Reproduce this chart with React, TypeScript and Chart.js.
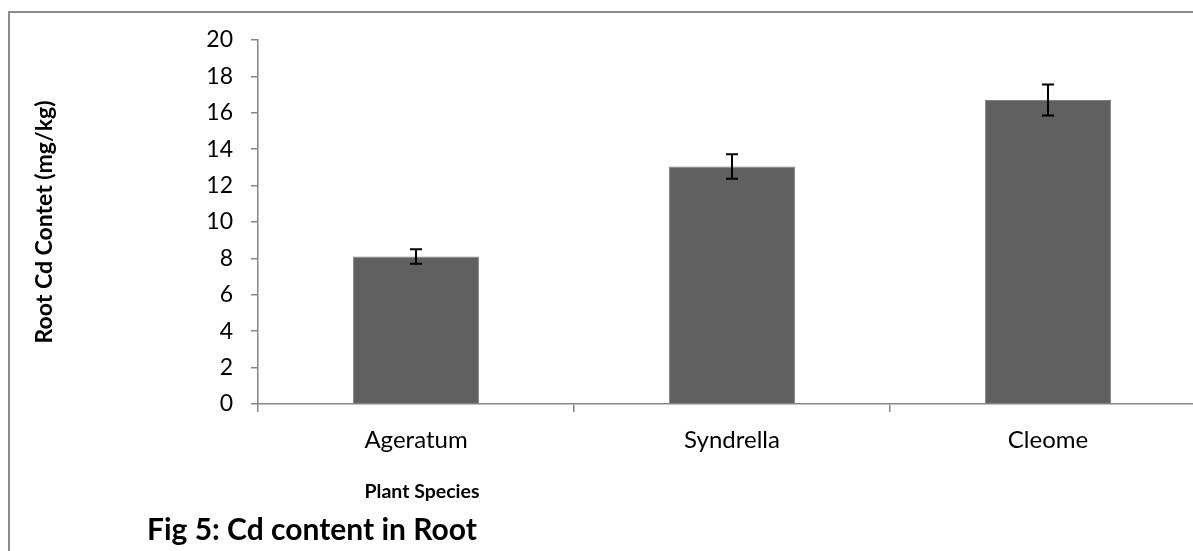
import React, { useEffect, useRef } from "react";
import { Chart, registerables } from "chart.js";

Chart.register(...registerables);

const categories = ["Ageratum", "Syndrella", "Cleome"];
const values = [8.1, 13.05, 16.7];
const errors = [0.4, 0.67, 0.85];
const yTitle = "Root Cd Contet (mg/kg)";
const xTitle = "Plant Species";
const figCaption = "Fig 5: Cd content in Root";

const FONT = "Lato, 'Open Sans', sans-serif";
const CANVAS_W = 1240;
const CANVAS_H = 551;

const errorBarPlugin = {
  id: "errorBars",
  afterDatasetsDraw(chart: any) {
    const meta = chart.getDatasetMeta(0);
    const y = chart.scales.y;
    const ctx = chart.ctx;
    ctx.save();
    ctx.strokeStyle = "#000000";
    ctx.lineWidth = 2;
    meta.data.forEach((bar: any, i: number) => {
      const x = bar.x;
      const top = y.getPixelForValue(values[i] + errors[i]);
      const bot = y.getPixelForValue(values[i] - errors[i]);
      ctx.beginPath();
      ctx.moveTo(x, top);
      ctx.lineTo(x, bot);
      ctx.moveTo(x - 6, top);
      ctx.lineTo(x + 6, top);
      ctx.moveTo(x - 6, bot);
      ctx.lineTo(x + 6, bot);
      ctx.stroke();
    });
    ctx.restore();
  },
};

const captionPlugin = {
  id: "captions",
  afterDraw(chart: any) {
    const ctx = chart.ctx;
    ctx.save();
    ctx.fillStyle = "#000000";
    ctx.textBaseline = "middle";
    ctx.textAlign = "center";
    ctx.font = `bold 19.5px ${FONT}`;
    ctx.fillText(xTitle, 422, 492);
    ctx.textAlign = "left";
    ctx.font = `bold 30px ${FONT}`;
    ctx.fillText(figCaption, 147, 530);
    ctx.restore();
  },
};

export default function App() {
  const canvasRef = useRef<HTMLCanvasElement | null>(null);

  useEffect(() => {
    if (!canvasRef.current) return;
    const chart = new Chart(canvasRef.current, {
      type: "bar",
      data: {
        labels: categories,
        datasets: [
          {
            data: values,
            backgroundColor: "#606060",
            borderColor: "#7f7f7f",
            borderWidth: 1,
            categoryPercentage: 1,
            barPercentage: 0.4,
          },
        ],
      },
      options: {
        animation: false,
        responsive: false,
        devicePixelRatio: 1,
        layout: { padding: { left: 0, right: CANVAS_W - 1206, top: 40, bottom: 0 } },
        plugins: {
          legend: { display: false },
          tooltip: { enabled: false },
        },
        scales: {
          x: {
            grid: {
              offset: true,
              drawOnChartArea: false,
              drawTicks: true,
              tickLength: 8,
              color: "#868686",
              lineWidth: 1.5,
            },
            border: { color: "#868686", width: 1.5 },
            ticks: { font: { family: FONT, size: 24 }, color: "#000000", padding: 14 },
            afterFit: (s: any) => {
              s.height = CANVAS_H - 404;
            },
          },
          y: {
            min: 0,
            max: 20,
            ticks: { stepSize: 2, font: { family: FONT, size: 23 }, color: "#000000", padding: 18 },
            grid: {
              drawOnChartArea: false,
              drawTicks: true,
              tickLength: 7,
              color: "#868686",
              lineWidth: 1.5,
            },
            border: { color: "#868686", width: 1.5 },
            title: {
              display: true,
              text: yTitle,
              font: { family: FONT, size: 23, weight: "bold" },
              color: "#000000",
              padding: { top: 31, bottom: 0 },
            },
            afterFit: (s: any) => {
              s.width = 258;
            },
          },
        },
      },
      plugins: [errorBarPlugin, captionPlugin],
    } as any);
    return () => chart.destroy();
  }, []);

  return (
    <div
      style={{
        position: "fixed",
        left: 0,
        top: 0,
        width: 1193,
        height: 551,
        overflow: "hidden",
        background: "#ffffff",
      }}
    >
      <div
        style={{
          position: "absolute",
          left: 8,
          top: 11,
          width: 1400,
          height: 700,
          border: "2px solid #8c8c8c",
          boxSizing: "border-box",
        }}
      />
      <canvas
        ref={canvasRef}
        width={CANVAS_W}
        height={CANVAS_H}
        style={{ position: "absolute", left: 0, top: 0, width: CANVAS_W, height: CANVAS_H }}
      />
    </div>
  );
}
